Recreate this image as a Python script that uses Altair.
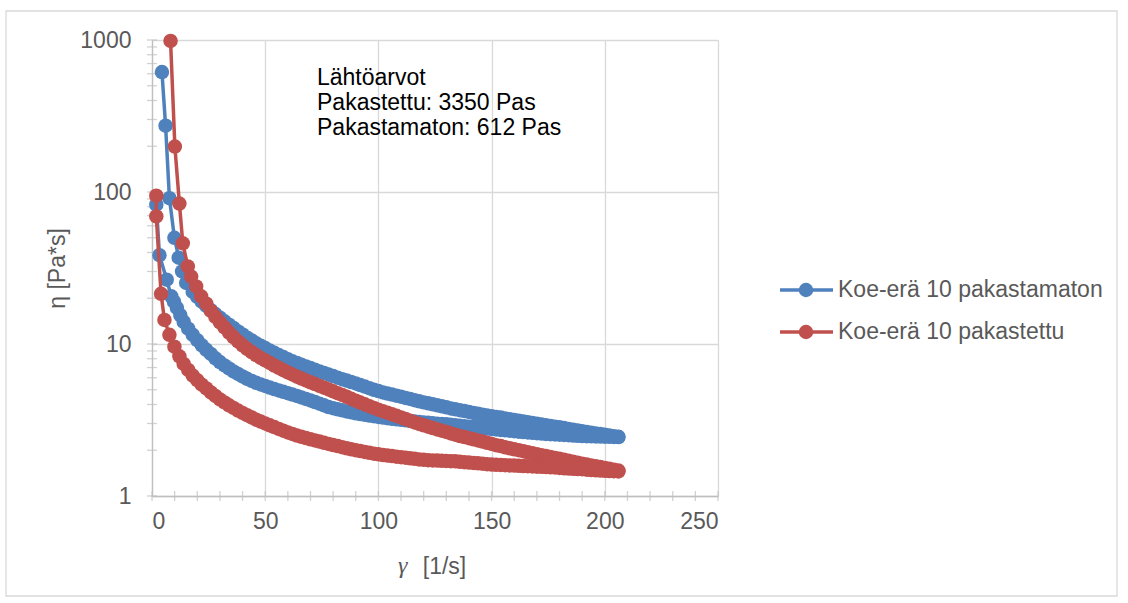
import altair as alt
import pandas as pd

SERIES = ["Koe-erä 10 pakastamaton", "Koe-erä 10 pakastettu"]
COLORS = ["#4F81BD", "#C0504D"]

# (shear rate [1/s], viscosity [Pa*s])
# --- Koe-erä 10 pakastamaton (blue): increasing shear rate
blue_up = [
    (4.4, 615), (6.0, 273), (7.7, 91), (9.9, 50), (11.8, 37), (13.3, 30), (15.1, 25.2),
    (18, 22.0), (20, 20.4), (22, 19.0), (24, 17.8), (26, 16.7), (28, 15.75), (30, 14.9),
    (32, 14.1), (34, 13.4), (36, 12.75), (38, 12.1), (40, 11.55), (42, 11.0), (44, 10.55),
    (46, 10.1), (48, 9.75), (50, 9.4), (52, 9.05), (54, 8.75), (56, 8.45), (58, 8.2),
    (60, 7.95), (62, 7.7), (64, 7.5), (66, 7.3), (68, 7.12), (70, 6.95), (72, 6.77),
    (74, 6.6), (76, 6.45), (78, 6.3), (80, 6.15), (82, 6.0), (84, 5.87), (86, 5.75),
    (88, 5.62), (90, 5.5), (92, 5.37), (94, 5.25), (96, 5.12), (98, 5.0), (100, 4.9),
    (102, 4.8), (104, 4.72), (106, 4.65), (108, 4.57), (110, 4.5), (112, 4.42), (114, 4.35),
    (116, 4.27), (118, 4.2), (120, 4.13), (122, 4.07), (124, 4.01), (126, 3.95), (128, 3.89),
    (130, 3.83), (132, 3.77), (134, 3.72), (136, 3.67), (138, 3.62), (140, 3.57), (142, 3.52),
    (144, 3.47), (146, 3.43), (148, 3.39), (150, 3.35), (152, 3.31), (154, 3.28), (156, 3.24),
    (158, 3.2), (160, 3.16), (162, 3.13), (164, 3.09), (166, 3.06), (168, 3.02), (170, 2.99),
    (172, 2.95), (174, 2.92), (176, 2.89), (178, 2.86), (180, 2.83), (182, 2.8), (184, 2.76),
    (186, 2.73), (188, 2.7), (190, 2.67), (192, 2.64), (194, 2.61), (196, 2.58), (198, 2.56),
    (200, 2.53), (202, 2.5), (204, 2.47), (206, 2.45),
]
# decreasing shear rate
blue_down = [
    (206, 2.44), (204, 2.445), (202, 2.45), (200, 2.455), (198, 2.46), (196, 2.465), (194, 2.47),
    (192, 2.475), (190, 2.48), (188, 2.49), (186, 2.5), (184, 2.51), (182, 2.52), (180, 2.53),
    (178, 2.54), (176, 2.55), (174, 2.56), (172, 2.575), (170, 2.59), (168, 2.605), (166, 2.62),
    (164, 2.635), (162, 2.65), (160, 2.67), (158, 2.69), (156, 2.705), (154, 2.72), (152, 2.74),
    (150, 2.76), (148, 2.78), (146, 2.8), (144, 2.82), (142, 2.84), (140, 2.86), (138, 2.88),
    (136, 2.9), (134, 2.92), (132, 2.94), (130, 2.96), (128, 2.975), (126, 2.99), (124, 3.01),
    (122, 3.03), (120, 3.05), (118, 3.07), (116, 3.095), (114, 3.12), (112, 3.145), (110, 3.17),
    (108, 3.195), (106, 3.22), (104, 3.25), (102, 3.28), (100, 3.31), (98, 3.35), (96, 3.38),
    (94, 3.42), (92, 3.46), (90, 3.5), (88, 3.55), (86, 3.6), (84, 3.66), (82, 3.72),
    (80, 3.78), (78, 3.85), (76, 3.95), (74, 4.05), (72, 4.15), (70, 4.25), (68, 4.35),
    (66, 4.45), (64, 4.55), (62, 4.65), (60, 4.75), (58, 4.85), (56, 4.95), (54, 5.05),
    (52, 5.17), (50, 5.3), (48, 5.42), (46, 5.55), (44, 5.72), (42, 5.9), (40, 6.12),
    (38, 6.35), (36, 6.6), (34, 6.9), (32, 7.23), (30, 7.6), (28, 8.05), (26, 8.6),
    (24, 9.15), (22, 9.8), (20, 10.6), (18, 11.5), (16, 12.6), (14, 14.0), (12.5, 15.5),
    (11, 17.3), (9.7, 19.0), (8.5, 20.6), (6.5, 26.5), (3.3, 38.4), (1.9, 82.5),
]

# --- Koe-erä 10 pakastettu (red): increasing shear rate
red_up = [
    (8.2, 985), (10.1, 199), (12.1, 84), (13.6, 46), (15.8, 32.4), (17.3, 27.8), (19.5, 23.9),
    (21.7, 20.6), (24, 18.4), (26, 16.5), (28, 15.1), (30, 13.9), (32, 12.85), (34, 11.9),
    (36, 11.1), (38, 10.4), (40, 9.8), (42, 9.3), (44, 8.85), (46, 8.45), (48, 8.1),
    (50, 7.8), (52, 7.5), (54, 7.22), (56, 6.97), (58, 6.72), (60, 6.5), (62, 6.3),
    (64, 6.1), (66, 5.92), (68, 5.76), (70, 5.6), (72, 5.45), (74, 5.3), (76, 5.16),
    (78, 5.02), (80, 4.88), (82, 4.75), (84, 4.62), (86, 4.49), (88, 4.36), (90, 4.24),
    (92, 4.12), (94, 4.01), (96, 3.9), (98, 3.8), (100, 3.7), (102, 3.61), (104, 3.53),
    (106, 3.45), (108, 3.37), (110, 3.29), (112, 3.21), (114, 3.13), (116, 3.05), (118, 2.98),
    (120, 2.92), (122, 2.86), (124, 2.8), (126, 2.74), (128, 2.69), (130, 2.64), (132, 2.58),
    (134, 2.53), (136, 2.48), (138, 2.44), (140, 2.4), (142, 2.36), (144, 2.32), (146, 2.28),
    (148, 2.24), (150, 2.2), (152, 2.16), (154, 2.13), (156, 2.09), (158, 2.06), (160, 2.03),
    (162, 2.0), (164, 1.97), (166, 1.94), (168, 1.91), (170, 1.88), (172, 1.855), (174, 1.83),
    (176, 1.805), (178, 1.78), (180, 1.755), (182, 1.73), (184, 1.705), (186, 1.68), (188, 1.655),
    (190, 1.63), (192, 1.61), (194, 1.59), (196, 1.57), (198, 1.55), (200, 1.53), (202, 1.51),
    (204, 1.49), (206, 1.47),
]
# decreasing shear rate
red_down = [
    (206, 1.45), (204, 1.455), (202, 1.46), (200, 1.465), (198, 1.47), (196, 1.475), (194, 1.48),
    (192, 1.49), (190, 1.5), (188, 1.505), (186, 1.51), (184, 1.515), (182, 1.52), (180, 1.53),
    (178, 1.54), (176, 1.545), (174, 1.55), (172, 1.555), (170, 1.56), (168, 1.565), (166, 1.57),
    (164, 1.575), (162, 1.58), (160, 1.585), (158, 1.59), (156, 1.595), (154, 1.6), (152, 1.605),
    (150, 1.61), (148, 1.62), (146, 1.63), (144, 1.64), (142, 1.65), (140, 1.66), (138, 1.67),
    (136, 1.68), (134, 1.69), (132, 1.695), (130, 1.7), (128, 1.705), (126, 1.71), (124, 1.715),
    (122, 1.72), (120, 1.73), (118, 1.74), (116, 1.755), (114, 1.77), (112, 1.785), (110, 1.8),
    (108, 1.815), (106, 1.83), (104, 1.845), (102, 1.86), (100, 1.88), (98, 1.9), (96, 1.925),
    (94, 1.95), (92, 1.975), (90, 2.0), (88, 2.03), (86, 2.06), (84, 2.095), (82, 2.13),
    (80, 2.165), (78, 2.2), (76, 2.24), (74, 2.28), (72, 2.32), (70, 2.36), (68, 2.405),
    (66, 2.45), (64, 2.5), (62, 2.56), (60, 2.62), (58, 2.69), (56, 2.76), (54, 2.84),
    (52, 2.92), (50, 3.0), (48, 3.09), (46, 3.18), (44, 3.29), (42, 3.4), (40, 3.52),
    (38, 3.65), (36, 3.8), (34, 3.95), (32, 4.13), (30, 4.32), (28, 4.55), (26, 4.8),
    (24, 5.1), (22, 5.4), (20, 5.78), (18, 6.2), (16, 6.75), (14, 7.4), (12.1, 8.3),
    (9.9, 9.6), (7.7, 11.5), (5.5, 14.4), (4.0, 21.4), (1.9, 69), (1.9, 94.5),
]

X_TICKS = [0, 50, 100, 150, 200, 250]
X_MINOR = [0, 10, 20, 30, 40, 50, 60, 70, 80, 90, 100, 110, 120, 130, 140, 150, 160, 170,
           180, 190, 200, 210, 220, 230, 240, 250]
Y_TICKS = [1, 10, 100, 1000]
Y_MINOR = [1, 2, 3, 4, 5, 6, 7, 8, 9, 10, 20, 30, 40, 50, 60, 70, 80, 90,
           100, 200, 300, 400, 500, 600, 700, 800, 900, 1000]
NOTE = ["Lähtöarvot", "Pakastettu: 3350 Pas", "Pakastamaton: 612 Pas"]
X_TITLE_SYMBOL = "γ"
X_TITLE_UNIT = "[1/s]"

rows = []
order = 0
for name, pts in [(SERIES[0], blue_up + blue_down), (SERIES[1], red_up + red_down)]:
    for a, b in pts:
        rows.append({"series": name, "x": a, "y": b, "order": order})
        order += 1
df = pd.DataFrame(rows)

W, H = 566, 456
LEFT, TOP = 152, 40
FONT = "Liberation Sans"
GRAY_TXT = "#595959"

x_axis = alt.Axis(values=X_TICKS, grid=True, gridColor="#D9D9D9", gridWidth=1.3,
                  domainColor="#BFBFBF", domainWidth=1.3, ticks=False,
                  labelFontSize=23, labelColor=GRAY_TXT, labelPadding=14, labelFont=FONT,
                  title=X_TITLE_UNIT, titleFontSize=23, titleColor=GRAY_TXT, titleFont=FONT,
                  titleFontWeight="normal", titleX=444 - LEFT, titleY=70,
                  titleBaseline="middle", titleAlign="center")
y_axis = alt.Axis(values=Y_TICKS, format="d", grid=True, gridColor="#D9D9D9", gridWidth=1.3,
                  domainColor="#BFBFBF", domainWidth=1.3, ticks=False,
                  labelFontSize=23, labelColor=GRAY_TXT, labelPadding=21, labelFont=FONT,
                  title="η [Pa*s]", titleFontSize=23, titleColor=GRAY_TXT, titleFont=FONT,
                  titleFontWeight="normal", titleX=-95, titleY=H / 2, titleAngle=-90,
                  titleBaseline="middle", titleAlign="center")

xs = alt.Scale(domain=[0, 250], nice=False, zero=False)
ys = alt.Scale(type="log", domain=[1, 1000], nice=False)
cs = alt.Scale(domain=SERIES, range=COLORS)

X = alt.X("x:Q", scale=xs, axis=x_axis)
Y = alt.Y("y:Q", scale=ys, axis=y_axis)
C = alt.Color("series:N", scale=cs, legend=None)

layers = []

# chart-area border
border = alt.Chart(pd.DataFrame({"a": [0]})).mark_rect(
    fill="#ffffff", fillOpacity=0, stroke="#D9D9D9", strokeWidth=1.3
).encode(x=alt.value(6 - LEFT), x2=alt.value(1117 - LEFT),
         y=alt.value(11 - TOP), y2=alt.value(596 - TOP))
layers.append(border)

# crossing tick marks
xt = alt.Chart(pd.DataFrame({"x": X_MINOR})).mark_tick(
    color="#BFBFBF", thickness=1.3, size=10).encode(x=X, y=alt.value(H))
yt = alt.Chart(pd.DataFrame({"y": Y_MINOR})).mark_tick(
    color="#BFBFBF", thickness=1.3, size=10).encode(y=Y, x=alt.value(0))
layers += [xt, yt]

for s in SERIES:
    base = alt.Chart(df).transform_filter(alt.datum.series == s)
    line = base.mark_line(strokeWidth=3.5).encode(x=X, y=Y, color=C, order="order:Q")
    pts = base.mark_circle(size=210, opacity=1).encode(x=X, y=Y, color=C)
    layers += [line, pts]

# italic gamma of the x-axis title
gam = alt.Chart(pd.DataFrame({"t": [X_TITLE_SYMBOL]})).mark_text(
    align="left", baseline="middle", fontSize=24, font="Liberation Serif",
    fontStyle="italic", color=GRAY_TXT
).encode(x=alt.value(398 - LEFT), y=alt.value(H + 70), text="t:N")
layers.append(gam)

# annotation
note = alt.Chart(pd.DataFrame({"t": ["\n".join(NOTE)]})).mark_text(
    align="left", baseline="alphabetic", fontSize=23, font=FONT, color="#000000",
    lineBreak="\n", lineHeight=25
).encode(x=alt.value(317 - LEFT), y=alt.value(85 - TOP), text="t:N")
layers.append(note)

# legend (drawn)
leg_df = pd.DataFrame({"series": SERIES})
for i, s in enumerate(SERIES):
    yy = [290, 332][i] - TOP
    lb = alt.Chart(leg_df).transform_filter(alt.datum.series == s)
    layers.append(lb.mark_rule(strokeWidth=3.5).encode(
        x=alt.value(780 - LEFT), x2=alt.value(833 - LEFT), y=alt.value(yy), color=C))
    layers.append(lb.mark_circle(size=210, opacity=1).encode(
        x=alt.value(806 - LEFT), y=alt.value(yy), color=C))
    layers.append(lb.mark_text(align="left", baseline="middle", fontSize=23, font=FONT,
                               color=GRAY_TXT).encode(
        x=alt.value(838 - LEFT), y=alt.value(yy), text="series:N"))

chart = alt.layer(*layers).properties(
    width=W, height=H,
    padding={"left": LEFT, "top": TOP, "right": 1128 - LEFT - W, "bottom": 603 - TOP - H},
    autosize=alt.AutoSizeParams(type="none"),
    background="white",
).configure_view(stroke=None).configure(font=FONT)

chart.save("out.html", embed_options={"renderer": "svg", "actions": False})
